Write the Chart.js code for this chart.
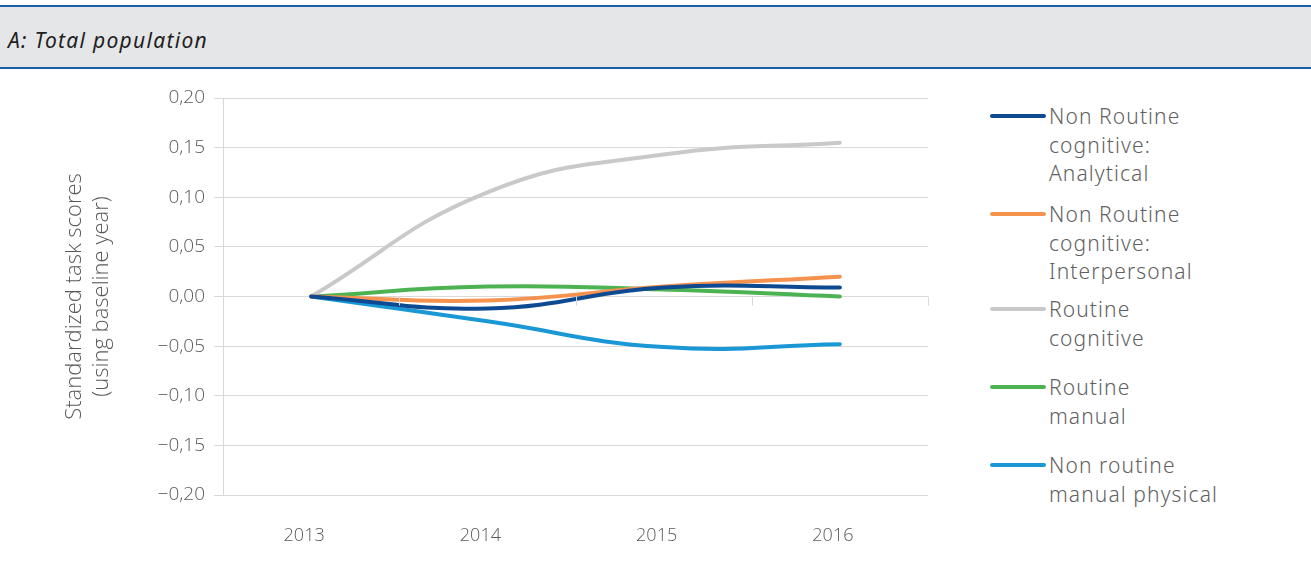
<!DOCTYPE html>
<html>
<head>
<meta charset="utf-8">
<script src="https://cdn.jsdelivr.net/npm/chart.js@4"></script>
<style>
  html, body { margin: 0; padding: 0; background: #fff; }
  body { width: 1311px; height: 580px; position: relative; overflow: hidden; font-family: "Noto Sans", sans-serif; }
  .topline { position: absolute; left: 0; top: 5px; width: 1311px; height: 2px; background: #1a5ea8; }
  .band { position: absolute; left: 0; top: 7px; width: 1311px; height: 60px; background: #e5e6e8; border-bottom: 2px solid #1a5ea8; }
  .band span { position: absolute; left: 8px; top: 19px; font-size: 21px; font-style: italic; color: #1f1f1f; letter-spacing: 1.3px; }
  #wrap { position: absolute; left: 0; top: 70px; width: 950px; height: 510px; }
  #legend { position: absolute; left: 990px; top: 0; width: 320px; }
  .item { position: absolute; left: 0; }
  .item .swatch { position: absolute; left: 0; top: 12px; width: 56px; height: 4px; border-radius: 2px; }
  .item .txt { position: absolute; left: 59px; top: 0; font-size: 21px; line-height: 28.7px; color: #616161; white-space: nowrap; letter-spacing: 1.1px; font-weight: 300; }
</style>
</head>
<body>
<div class="topline"></div>
<div class="band"><span>A: Total population</span></div>
<div id="wrap"><canvas id="taskChart" width="950" height="510"></canvas></div>
<div id="legend"></div>
<script>
// years on the x axis
const years = ['2013', '2014', '2015', '2016'];

// standardized task scores, change vs 2013
const nrAnalytical = [0, -0.012, 0.009, 0.009];
const nrInterpersonal = [0, -0.004, 0.010, 0.020];
const routineCognitive = [0, 0.105, 0.143, 0.155];
const routineManual = [0, 0.010, 0.007, 0.000];
const nrManualPhysical = [0, -0.025, -0.051, -0.048];

const seriesNames = [
    ['Non Routine', 'cognitive:', 'Analytical'],
    ['Non Routine', 'cognitive:', 'Interpersonal'],
    ['Routine', 'cognitive'],
    ['Routine', 'manual'],
    ['Non routine', 'manual physical']
];
const seriesData = [nrAnalytical, nrInterpersonal, routineCognitive, routineManual, nrManualPhysical];
const seriesColors = ['#0d4a92', '#f5924e', '#c9c9c9', '#4db352', '#1a97d5'];

// legend entry tops (page y of first text line minus half line)
const legendTops = [102, 200, 295, 373, 451];

const gridColor = '#d9d9d9';
const textColor = '#595959';

// little tick marks on the zero line between categories
const zeroTicks = {
    id: 'zeroTicks',
    afterDraw(chart) {
        const x = chart.scales.x;
        const y = chart.scales.y;
        const y0 = y.getPixelForValue(0);
        const ctx = chart.ctx;
        ctx.save();
        ctx.strokeStyle = gridColor;
        ctx.lineWidth = 1;
        for (let i = 1; i <= years.length; i++) {
            const px = Math.round(x.getPixelForValue(i - 0.5)) + 0.5;
            ctx.beginPath();
            ctx.moveTo(px, y0);
            ctx.lineTo(px, y0 + 9);
            ctx.stroke();
        }
        ctx.restore();
    }
};

const ctx = document.getElementById('taskChart');
new Chart(ctx, {
    type: 'line',
    data: {
        labels: years,
        datasets: seriesData.map((d, i) => ({
            label: seriesNames[i].join(' '),
            data: d,
            borderColor: seriesColors[i],
            backgroundColor: seriesColors[i],
            borderWidth: 4,
            pointRadius: 0,
            tension: 0.45,
            borderCapStyle: 'round'
        }))
    },
    options: {
        responsive: false,
        animation: false,
        layout: { padding: { top: 28, right: 22, left: 61, bottom: 0 } },
        plugins: {
            legend: { display: false },
            tooltip: { enabled: false }
        },
        scales: {
            x: {
                offset: true,
                grid: { display: false },
                border: { display: false },
                ticks: { color: textColor, font: { family: 'Open Sans', size: 18, weight: 300 }, padding: 22, labelOffset: -7 },
                afterFit(scale) { scale.height = 85; }
            },
            y: {
                min: -0.2,
                max: 0.2,
                ticks: {
                    stepSize: 0.05,
                    color: textColor,
                    padding: 9,
                    font: { family: 'Open Sans', size: 19, weight: 300 },
                    callback: v => (v < 0 ? '\u2212' : '') + Math.abs(v).toFixed(2).replace('.', ',')
                },
                grid: { color: gridColor, tickLength: 9, tickColor: gridColor },
                border: { display: true, color: gridColor },
                title: {
                    display: true,
                    text: ['Standardized task scores', '(using baseline year)'],
                    color: textColor,
                    font: { family: 'Open Sans', size: 22, weight: 300, lineHeight: 1.22 },
                    padding: { top: 0, bottom: 0 }
                },
                afterFit(scale) { scale.width = 162; }
            }
        }
    },
    plugins: [zeroTicks]
});

// legend built from the same series
const legend = document.getElementById('legend');
seriesNames.forEach((name, i) => {
    const item = document.createElement('div');
    item.className = 'item';
    item.style.top = legendTops[i] + 'px';
    item.innerHTML = '<div class="swatch" style="background:' + seriesColors[i] + '"></div>' +
        '<div class="txt">' + name.join('<br>') + '</div>';
    legend.appendChild(item);
});
</script>
</body>
</html>
